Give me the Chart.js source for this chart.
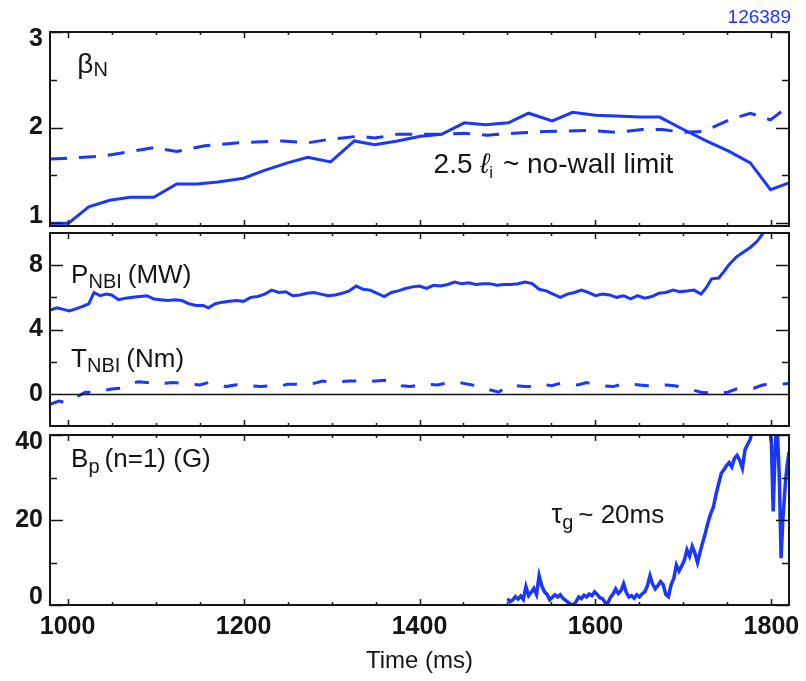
<!DOCTYPE html>
<html>
<head>
<meta charset="utf-8">
<script src="https://cdn.jsdelivr.net/npm/chart.js@4.4.1/dist/chart.umd.min.js"></script>
<style>
  html, body { margin: 0; padding: 0; background: #fff; }
  #wrap { position: relative; width: 806px; height: 681px; }
  #wrap canvas { position: absolute; left: 0; }
  #shot { position: absolute; right: 15px; top: 6px; font: 19px "Liberation Sans", Arial, sans-serif; color: #1a36ff; }
</style>
</head>
<body>
<div id="wrap">
  <canvas id="betaChart" width="806" height="242" style="top:0"></canvas>
  <canvas id="nbiChart" width="806" height="224" style="top:218px"></canvas>
  <canvas id="bpChart" width="806" height="261" style="top:420px"></canvas>
  <div id="shot">126389</div>
</div>
<script>
// shared time axis
const timeMin = 980, timeMax = 1820;
const timeLabels = [1000, 1200, 1400, 1600, 1800];
const timeMinor = [1050, 1100, 1150, 1250, 1300, 1350, 1450, 1500, 1550, 1650, 1700, 1750];

// panel 1: beta_N and 2.5 li
const betaTicks = [1, 2, 3];
const betaMinor = [1.5, 2.5];
const betaTime = [980, 1001, 1024, 1048, 1071, 1098, 1124, 1147, 1171, 1200, 1223, 1250, 1273, 1299, 1326, 1349, 1375, 1401, 1425, 1451, 1475, 1501, 1524, 1551, 1574, 1600, 1624, 1650, 1673, 1700, 1726, 1752, 1776, 1799, 1820];
const betaN = [1.0, 1.0, 1.17, 1.24, 1.27, 1.27, 1.41, 1.41, 1.43, 1.47, 1.55, 1.63, 1.69, 1.64, 1.86, 1.82, 1.86, 1.91, 1.93, 2.05, 2.03, 2.05, 2.15, 2.07, 2.16, 2.13, 2.12, 2.11, 2.11, 1.98, 1.86, 1.75, 1.63, 1.35, 1.42];
const liTime = [980, 1039, 1098, 1124, 1156, 1194, 1244, 1273, 1296, 1331, 1349, 1375, 1425, 1451, 1477, 1507, 1542, 1595, 1624, 1653, 1676, 1700, 1723, 1752, 1776, 1799, 1820];
const liLimit = [1.67, 1.70, 1.79, 1.75, 1.81, 1.84, 1.86, 1.84, 1.875, 1.91, 1.89, 1.93, 1.93, 1.94, 1.92, 1.94, 1.96, 1.97, 1.95, 1.98, 1.98, 1.95, 1.96, 2.08, 2.15, 2.08, 2.23];

// panel 2: NBI power and torque
const nbiTicks = [0, 4, 8];
const nbiMinor = [2, 6];
const pnbiTime = [980, 988, 995, 1002, 1010, 1018, 1024, 1030, 1037, 1044, 1050, 1058, 1066, 1074, 1082, 1090, 1098, 1106, 1114, 1122, 1130, 1138, 1146, 1154, 1160, 1168, 1176, 1184, 1192, 1200, 1208, 1216, 1224, 1232, 1240, 1248, 1256, 1264, 1272, 1280, 1288, 1296, 1304, 1312, 1320, 1328, 1336, 1344, 1352, 1360, 1368, 1376, 1384, 1392, 1400, 1408, 1416, 1424, 1432, 1440, 1448, 1456, 1464, 1472, 1480, 1488, 1496, 1504, 1512, 1520, 1528, 1536, 1544, 1552, 1560, 1568, 1576, 1584, 1592, 1600, 1608, 1616, 1624, 1632, 1640, 1648, 1656, 1664, 1672, 1680, 1688, 1696, 1704, 1712, 1720, 1726, 1732, 1740, 1746, 1752, 1760, 1768, 1776, 1784, 1790, 1796];
const pnbi = [5.2, 5.35, 5.25, 5.15, 5.3, 5.45, 5.6, 6.3, 6.1, 6.2, 6.15, 5.85, 5.95, 6.0, 6.05, 6.1, 5.9, 5.85, 5.8, 5.85, 5.8, 5.6, 5.5, 5.5, 5.35, 5.6, 5.7, 5.75, 5.8, 5.75, 6.0, 6.05, 6.2, 6.45, 6.3, 6.35, 6.1, 6.15, 6.25, 6.3, 6.2, 6.1, 6.15, 6.25, 6.4, 6.7, 6.5, 6.45, 6.25, 6.05, 6.3, 6.4, 6.55, 6.65, 6.7, 6.55, 6.75, 6.7, 6.8, 6.95, 6.85, 6.9, 6.8, 6.85, 6.85, 6.75, 6.8, 6.8, 6.85, 6.95, 6.85, 6.5, 6.4, 6.2, 6.0, 6.2, 6.3, 6.45, 6.3, 6.1, 6.2, 6.15, 6.0, 6.1, 5.9, 6.1, 5.95, 6.05, 6.25, 6.3, 6.45, 6.35, 6.4, 6.45, 6.2, 6.6, 7.15, 7.2, 7.6, 8.05, 8.5, 8.8, 9.1, 9.5, 9.95, 10.5];
const tnbiTime = [980, 990, 1000, 1010, 1020, 1030, 1040, 1050, 1060, 1070, 1080, 1090, 1100, 1110, 1120, 1130, 1140, 1150, 1160, 1170, 1180, 1190, 1200, 1210, 1220, 1230, 1240, 1250, 1260, 1270, 1280, 1290, 1300, 1310, 1320, 1330, 1340, 1350, 1360, 1370, 1380, 1390, 1400, 1410, 1420, 1430, 1440, 1450, 1460, 1470, 1480, 1490, 1500, 1510, 1520, 1530, 1540, 1550, 1560, 1570, 1580, 1590, 1600, 1610, 1620, 1630, 1640, 1650, 1660, 1670, 1680, 1690, 1700, 1710, 1720, 1730, 1740, 1750, 1760, 1770, 1780, 1790, 1800, 1810, 1820];
const tnbi = [-0.65, -0.45, -0.55, -0.2, 0.1, 0.1, 0.2, 0.3, 0.35, 0.6, 0.75, 0.7, 0.75, 0.65, 0.7, 0.65, 0.6, 0.55, 0.7, 0.6, 0.45, 0.55, 0.6, 0.5, 0.45, 0.5, 0.45, 0.6, 0.6, 0.55, 0.65, 0.8, 0.7, 0.75, 0.8, 0.8, 0.75, 0.8, 0.85, 0.75, 0.5, 0.45, 0.55, 0.6, 0.55, 0.65, 0.75, 0.65, 0.55, 0.5, 0.25, 0.1, 0.5, 0.5, 0.45, 0.45, 0.6, 0.5, 0.65, 0.65, 0.55, 0.7, 0.55, 0.5, 0.45, 0.6, 0.6, 0.55, 0.5, 0.5, 0.55, 0.5, 0.4, 0.25, 0.1, 0.05, 0.05, 0.1, 0.3, 0.3, 0.35, 0.55, 0.6, 0.6, 0.65];

// panel 3: n=1 poloidal field
const bpTicks = [0, 20, 40];
const bpMinor = [10, 30];
const bpTime = [1500, 1503, 1506, 1509, 1512, 1515, 1518, 1521, 1524, 1527, 1530, 1533, 1536, 1539, 1542, 1545, 1548, 1551, 1554, 1557, 1560, 1563, 1566, 1569, 1572, 1575, 1578, 1581, 1584, 1587, 1590, 1593, 1596, 1599, 1602, 1605, 1608, 1611, 1614, 1617, 1620, 1623, 1626, 1629, 1632, 1635, 1638, 1641, 1644, 1647, 1650, 1653, 1656, 1659, 1662, 1665, 1668, 1671, 1674, 1677, 1680, 1683, 1686, 1689, 1692, 1695, 1698, 1701, 1704, 1707, 1710, 1713, 1716, 1719, 1722, 1725, 1728, 1731, 1734, 1737, 1740, 1743, 1746, 1749, 1752, 1755, 1758, 1761, 1764, 1767, 1770, 1773, 1776, 1779, 1783, 1790, 1797, 1800, 1802, 1804, 1806, 1809, 1811, 1813, 1816, 1818, 1820];
const bp = [1.5, 0.8, 1.2, 2.0, 1.4, 2.1, 1.3, 4.3, 2.2, 3.0, 3.9, 2.5, 6.9, 4.5, 3.1, 2.5, 1.2, 1.8, 2.4, 1.9, 2.4, 1.6, 1.1, 0.6, 0.2, 0.0, 0.8, 1.9, 1.5, 2.3, 1.9, 2.6, 2.2, 3.1, 2.5, 1.7, 1.5, 0.6, 0.4, 1.8, 2.6, 3.8, 2.7, 3.4, 5.0, 3.0, 1.9, 2.2, 1.6, 2.4, 1.9, 2.6, 3.1, 4.5, 6.9, 4.9, 3.8, 4.6, 5.5, 4.8, 2.5, 2.0, 4.8, 6.2, 9.4, 8.0, 9.2, 10.5, 13.0, 11.5, 13.8, 12.2, 10.0, 12.5, 14.8, 17.0, 19.5, 21.5, 23.0, 26.0, 28.5, 31.0, 31.8, 32.8, 33.5, 32.5, 34.5, 35.2, 34.0, 32.2, 36.5, 37.8, 39.0, 42, 45, 45, 44, 38, 22, 35, 45, 30, 11, 20, 29, 33, 36];

const lineBlue = '#1a36ff';
const ink = '#151515';
const family = '"Liberation Sans", Arial, Helvetica, sans-serif';

// draw a run of text pieces (subscripts, italics) left to right
function drawNote(ctx, x, y, parts) {
    let cx = x;
    parts.forEach(p => {
        ctx.font = (p.italic ? 'italic ' : '') + p.size + 'px ' + family;
        ctx.fillText(p.t, cx, y + (p.dy || 0));
        cx += ctx.measureText(p.t).width + (p.gap || 0);
    });
}

// frame box, inward tick marks, zero line and in-panel labels
const frameTicks = {
    id: 'frameTicks',
    afterDatasetsDraw(chart, args, opts) {
        const ctx = chart.ctx;
        const a = chart.chartArea;
        const x = chart.scales.x, y = chart.scales.y;
        ctx.save();
        ctx.strokeStyle = ink;
        ctx.lineWidth = 1.5;
        ctx.beginPath();
        const xTick = (v, len) => {
            const px = Math.round(x.getPixelForValue(v)) + 0.5;
            ctx.moveTo(px, a.bottom); ctx.lineTo(px, a.bottom - len);
            ctx.moveTo(px, a.top); ctx.lineTo(px, a.top + len);
        };
        const yTick = (v, len) => {
            const py = Math.round(y.getPixelForValue(v)) + 0.5;
            ctx.moveTo(a.left, py); ctx.lineTo(a.left + len, py);
            ctx.moveTo(a.right, py); ctx.lineTo(a.right - len, py);
        };
        timeLabels.forEach(v => xTick(v, 6));
        timeMinor.forEach(v => xTick(v, 3));
        opts.yMajor.forEach(v => yTick(v, 13));
        opts.yMinor.forEach(v => yTick(v, 7));
        if (opts.zero) {
            const pz = Math.round(y.getPixelForValue(0)) + 0.5;
            ctx.moveTo(a.left, pz); ctx.lineTo(a.right, pz);
        }
        ctx.stroke();
        ctx.lineWidth = 2;
        ctx.strokeRect(a.left, a.top, a.right - a.left, a.bottom - a.top);

        ctx.fillStyle = ink;
        ctx.textBaseline = 'alphabetic';
        ctx.textAlign = 'left';
        (opts.notes || []).forEach(n => {
            drawNote(ctx, x.getPixelForValue(n.x), y.getPixelForValue(n.y), n.parts);
        });
        ctx.restore();
    }
};

function makePanel(id, cfg) {
    return new Chart(document.getElementById(id), {
        type: 'line',
        data: {
            datasets: cfg.series.map(s => ({
                data: s.t.map((t, i) => ({ x: t, y: s.v[i] })),
                borderColor: lineBlue,
                borderWidth: s.width || 3,
                borderDash: s.dash || [],
                pointRadius: 0,
                tension: 0,
                fill: false,
                clip: 0
            }))
        },
        options: {
            responsive: false,
            animation: false,
            events: [],
            layout: { padding: cfg.padding },
            plugins: {
                legend: { display: false },
                tooltip: { enabled: false },
                frameTicks: { yMajor: cfg.yTicks, yMinor: cfg.yMinor, zero: cfg.zero, notes: cfg.notes }
            },
            scales: {
                x: {
                    type: 'linear',
                    min: timeMin,
                    max: timeMax,
                    display: !!cfg.showTime,
                    grid: { display: false, drawTicks: false },
                    border: { display: false },
                    afterBuildTicks: s => { s.ticks = timeLabels.map(v => ({ value: v })); },
                    afterFit: s => {
                        if (cfg.showTime) s.height = 76;
                        s.paddingLeft = 0;
                        s.paddingRight = 0;
                    },
                    ticks: {
                        font: { family: family, size: 25, weight: 'bold' },
                        color: ink,
                        padding: 7,
                        maxRotation: 0,
                        autoSkip: false,
                        callback: v => String(v)
                    },
                    title: { display: true, text: 'Time (ms)', color: ink, font: { family: family, size: 24 }, padding: { top: 0, bottom: 5 } }
                },
                y: {
                    type: 'linear',
                    min: cfg.yMin,
                    max: cfg.yMax,
                    grid: { display: false, drawTicks: false },
                    border: { display: false },
                    afterBuildTicks: s => { s.ticks = cfg.yTicks.map(v => ({ value: v })); },
                    afterFit: s => { s.width = 50; s.paddingTop = 0; s.paddingBottom = 0; },
                    ticks: {
                        font: { family: family, size: 25, weight: 'bold', lineHeight: 0.6 },
                        color: ink,
                        padding: 7,
                        // labels sitting on the frame edge are nudged inside, as in the original plot
                        callback: function(v) {
                            const lbl = String(v);
                            const span = this.max - this.min;
                            if (this.max - v < span * 0.05) return ['', lbl];
                            if (v - this.min < span * 0.05) return [lbl, ''];
                            return lbl;
                        }
                    }
                }
            }
        },
        plugins: [frameTicks]
    });
}

makePanel('betaChart', {
    padding: { top: 32, bottom: 16, left: 0, right: 17 },
    yMin: 0.97, yMax: 3, yTicks: betaTicks, yMinor: betaMinor,
    series: [
        { t: betaTime, v: betaN },
        { t: liTime, v: liLimit, dash: [17, 12] }
    ],
    notes: [
        { x: 1011, y: 2.57, parts: [{ t: 'β', size: 28 }, { t: 'N', size: 20, dy: 3 }] },
        { x: 1416, y: 1.52, parts: [{ t: '2.5 ', size: 28 }, { t: 'ℓ', size: 28, italic: true }, { t: 'i', size: 17, dy: 5, gap: 2 }, { t: ' ~ no-wall limit', size: 28 }] }
    ]
});

makePanel('nbiChart', {
    padding: { top: 15, bottom: 16, left: 0, right: 17 },
    yMin: -2, yMax: 10, yTicks: nbiTicks, yMinor: nbiMinor, zero: true,
    series: [
        { t: pnbiTime, v: pnbi },
        { t: tnbiTime, v: tnbi, dash: [14, 16] }
    ],
    notes: [
        { x: 1004, y: 6.9, parts: [{ t: 'P', size: 26 }, { t: 'NBI', size: 20, dy: 5, gap: 6 }, { t: '(MW)', size: 26 }] },
        { x: 1004, y: 1.66, parts: [{ t: 'T', size: 26 }, { t: 'NBI', size: 20, dy: 5, gap: 6 }, { t: '(Nm)', size: 26 }] }
    ]
});

makePanel('bpChart', {
    padding: { top: 15, bottom: 0, left: 0, right: 17 },
    yMin: 0, yMax: 40, yTicks: bpTicks, yMinor: bpMinor, showTime: true,
    series: [
        { t: bpTime, v: bp, width: 3.5 }
    ],
    notes: [
        { x: 1004, y: 32.5, parts: [{ t: 'B', size: 26 }, { t: 'p', size: 20, dy: 6, gap: 5 }, { t: '(n=1) (G)', size: 26 }] },
        { x: 1550, y: 19.3, parts: [{ t: 'τ', size: 27 }, { t: 'g', size: 20, dy: 6, gap: 5 }, { t: '~ 20ms', size: 26 }] }
    ]
});
</script>
</body>
</html>
